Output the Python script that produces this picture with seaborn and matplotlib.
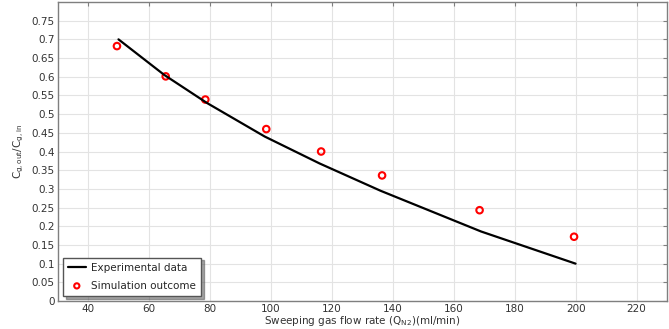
import seaborn as sns
import matplotlib.pyplot as plt
import pandas as pd

# valores
caudal_exp = [50, 65, 79, 98, 116, 136, 169, 200]
conc_exp = [0.70, 0.605, 0.53, 0.44, 0.368, 0.295, 0.186, 0.10]

caudal_sim = [49.5, 65.5, 78.5, 98.5, 116.5, 136.5, 168.5, 199.5]
conc_sim = [0.682, 0.601, 0.539, 0.46, 0.40, 0.336, 0.243, 0.172]

df_exp = pd.DataFrame({'q': caudal_exp, 'c': conc_exp})
df_sim = pd.DataFrame({'q': caudal_sim, 'c': conc_sim})

sns.set_style('whitegrid', {'grid.color': '#e3e3e3', 'axes.edgecolor': '#7f7f7f'})
plt.rcParams['font.family'] = ['DejaVu Sans']
plt.rcParams['font.size'] = 7.5

fig, ax = plt.subplots(figsize=(6.69, 3.29), dpi=100)
sns.lineplot(data=df_exp, x='q', y='c', color='black', linewidth=1.6,
             label='Experimental data', ax=ax)
sns.scatterplot(data=df_sim, x='q', y='c', marker='o', s=22, facecolor='none',
                edgecolor='red', linewidth=1.5, label='Simulation outcome', ax=ax)

ax.set_xlim(30, 230)
ax.set_ylim(0, 0.8)
ax.set_xticks(range(40, 221, 20))
ax.set_yticks([i * 0.05 for i in range(16)])
ax.set_yticklabels(['0', '0.05', '0.1', '0.15', '0.2', '0.25', '0.3', '0.35', '0.4',
                    '0.45', '0.5', '0.55', '0.6', '0.65', '0.7', '0.75'])
ax.tick_params(direction='in', length=3, color='#7f7f7f', top=True, right=True,
               labelsize=7.5, labelcolor='#333333', pad=2)
ax.set_xlabel('Sweeping gas flow rate (Q$_{\\mathregular{N2}}$)(ml/min)', fontsize=7.5,
              color='#333333', labelpad=0)
ax.set_ylabel('C$_{\\mathregular{g,out}}$/C$_{\\mathregular{g,in}}$', fontsize=7.5,
              color='#333333', labelpad=4)
for s in ax.spines.values():
    s.set_linewidth(1.0)

ax.legend(loc='lower left', fancybox=False, shadow=True, framealpha=1,
          edgecolor='#555555', fontsize=7.5, borderaxespad=0.5,
          labelspacing=0.75, handlelength=1.7, handletextpad=0.5,
          borderpad=0.5, markerscale=0.8)

plt.subplots_adjust(left=0.086, right=0.997, top=0.994, bottom=0.085)
plt.savefig('out.png', dpi=100)
